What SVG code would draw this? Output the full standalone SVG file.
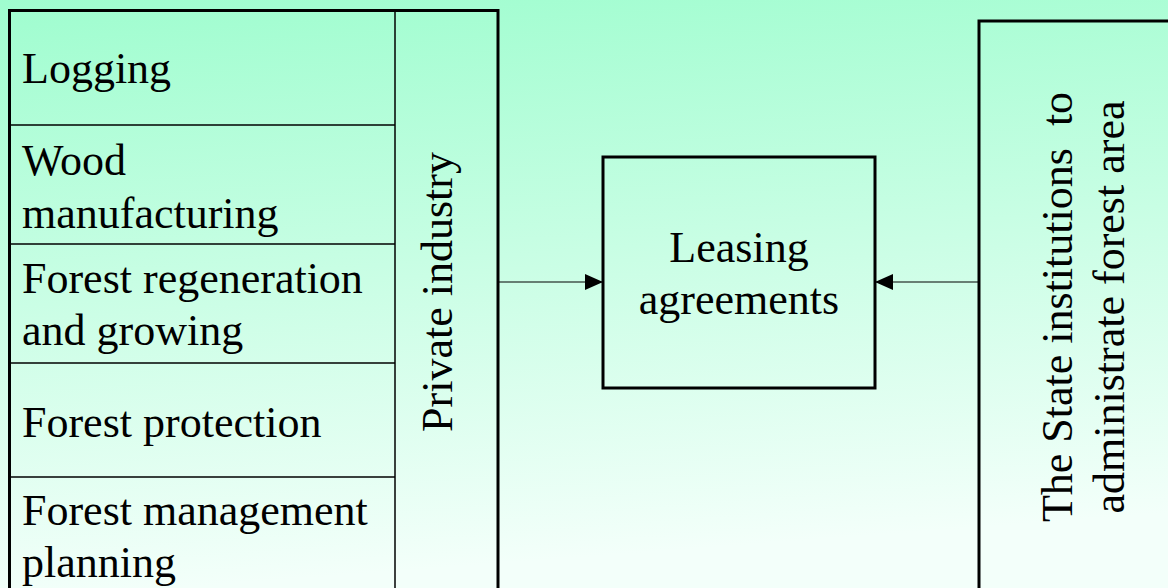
<svg xmlns="http://www.w3.org/2000/svg" width="1168" height="588" viewBox="0 0 1168 588">
  <defs>
    <linearGradient id="bg" x1="0" y1="0" x2="0.15" y2="1">
      <stop offset="0" stop-color="#9ffdcf"/>
      <stop offset="1" stop-color="#f3fffa"/>
    </linearGradient>
    <marker id="head" viewBox="0 0 18 16" refX="18" refY="8" markerWidth="18" markerHeight="16" markerUnits="userSpaceOnUse" orient="auto">
      <path d="M0,0 L18,8 L0,16 Z" fill="#000"/>
    </marker>
    <style>
      .frame { fill: none; stroke: #000; stroke-width: 3; }
      .rule { fill: none; stroke: #000; stroke-width: 1.5; }
      .lbl { font-family: "Liberation Serif", "Times New Roman", serif; font-size: 44px; fill: #000; }
      .mid { text-anchor: middle; }
      .link { stroke: #000; stroke-width: 1.2; fill: none; marker-end: url(#head); }
    </style>
  </defs>

  <rect width="1168" height="588" fill="url(#bg)"/>

  <!-- private industry block with its activities -->
  <g id="private-industry">
    <rect class="frame" x="9.5" y="10.5" width="488.5" height="600"/>
    <line class="rule" x1="395" y1="10.5" x2="395" y2="600"/>
    <text class="lbl mid" transform="translate(452,292) rotate(-90)">Private industry</text>
  </g>

  <g id="logging">
    <text class="lbl" x="22" y="83">Logging</text>
    <line class="rule" x1="9.5" y1="125" x2="395" y2="125"/>
  </g>

  <g id="wood-manufacturing">
    <text class="lbl" x="22" y="175">Wood</text>
    <text class="lbl" x="22" y="228">manufacturing</text>
    <line class="rule" x1="9.5" y1="244" x2="395" y2="244"/>
  </g>

  <g id="forest-regeneration">
    <text class="lbl" x="22" y="293">Forest regeneration</text>
    <text class="lbl" x="22" y="345">and growing</text>
    <line class="rule" x1="9.5" y1="363" x2="395" y2="363"/>
  </g>

  <g id="forest-protection">
    <text class="lbl" x="22" y="437">Forest protection</text>
    <line class="rule" x1="9.5" y1="477" x2="395" y2="477"/>
  </g>

  <g id="forest-management-planning">
    <text class="lbl" x="22" y="525">Forest management</text>
    <text class="lbl" x="22" y="577">planning</text>
  </g>

  <!-- leasing agreements -->
  <g id="leasing-agreements">
    <rect class="frame" x="603" y="157" width="272" height="231"/>
    <text class="lbl mid" x="739" y="262">Leasing</text>
    <text class="lbl mid" x="739" y="314">agreements</text>
  </g>

  <!-- state institutions -->
  <g id="state-institutions">
    <rect class="frame" x="979" y="21" width="220" height="600"/>
    <text class="lbl mid" transform="translate(1072,307) rotate(-90)" xml:space="preserve">The State institutions  to</text>
    <text class="lbl mid" transform="translate(1124,307) rotate(-90)">administrate forest area</text>
  </g>

  <g id="connectors">
    <line class="link" x1="498" y1="282" x2="603" y2="282"/>
    <line class="link" x1="979" y1="282" x2="875" y2="282"/>
  </g>
</svg>
